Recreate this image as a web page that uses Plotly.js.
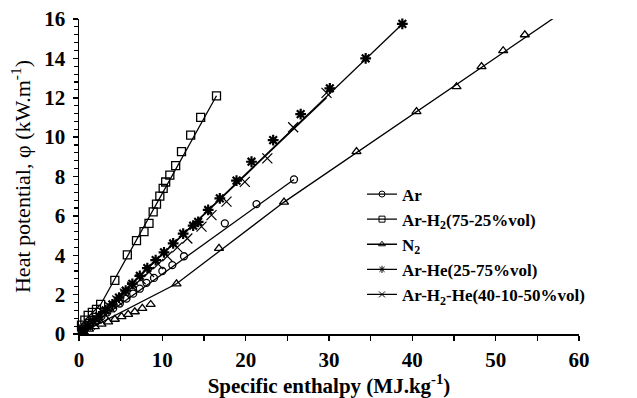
<!DOCTYPE html>
<html>
<head>
<meta charset="utf-8">
<script src="https://cdn.plot.ly/plotly-3.0.1.min.js"></script>
<style>html,body{margin:0;padding:0;background:#fff;}#chart{width:637px;height:398px;}</style>
</head>
<body>
<div id="chart"></div>
<script>
// ---- data ----
var seriesNames = ['Ar', 'Ar-H<sub>2</sub>(75-25%vol)', 'N<sub>2</sub>', 'Ar-He(25-75%vol)', 'Ar-H<sub>2</sub>-He(40-10-50%vol)'];

var arX = [0.3,0.8,1.4,2.0,2.7,3.4,4.1,4.9,5.7,6.5,7.3,8.1,9.0,10.0,11.2,12.6,17.5,21.3,25.8];
var arY = [0.15,0.3,0.5,0.7,0.9,1.1,1.3,1.55,1.8,2.05,2.3,2.6,2.85,3.2,3.5,3.95,5.62,6.6,7.85];

var arH2X = [0.3,0.7,1.1,1.6,2.1,2.6,4.3,5.8,6.9,7.8,8.4,8.9,9.3,9.7,10.1,10.4,10.9,11.6,12.3,13.4,14.6,16.5];
var arH2Y = [0.45,0.7,0.95,1.1,1.25,1.5,2.72,4.02,4.74,5.2,5.62,6.2,6.6,7.0,7.4,7.72,8.07,8.55,9.26,10.1,11.0,12.1];

var n2X = [0.5,1.2,1.9,2.7,3.5,4.3,5.1,5.9,6.7,7.6,8.6,11.7,16.8,24.6,33.3,40.5,45.3,48.3,50.9,53.5];
var n2Y = [0.12,0.25,0.37,0.5,0.62,0.75,0.88,1.0,1.13,1.3,1.5,2.55,4.35,6.7,9.26,11.3,12.56,13.58,14.39,15.2];

var arHeX = [0.4,1.0,1.7,2.4,3.2,4.0,4.8,5.6,6.4,7.3,8.2,9.2,10.2,11.3,12.5,13.7,14.3,15.5,16.9,18.9,20.7,23.3,26.6,30.1,34.4,38.8];
var arHeY = [0.2,0.4,0.65,0.9,1.2,1.5,1.85,2.2,2.55,2.95,3.35,3.75,4.15,4.6,5.1,5.5,5.7,6.3,6.89,7.79,8.75,9.85,11.17,12.48,14.0,15.75];

var arH2HeX = [0.6,1.3,2.1,2.9,3.7,4.6,5.5,6.4,7.4,8.4,9.5,10.6,11.8,13.0,14.7,15.9,17.7,19.9,22.6,25.7,29.7];
var arH2HeY = [0.22,0.48,0.78,1.07,1.37,1.7,2.05,2.4,2.78,3.15,3.55,3.95,4.4,4.85,5.45,6.04,6.72,7.73,8.92,10.5,12.25];

// fitted lines drawn in the reference (end points)
var arFitX = [0, 25.8];          var arFitY = [0, 7.85];
var arH2FitX = [0, 0.7, 2.6, 16.5]; var arH2FitY = [0.3, 0.7, 1.5, 12.1];
var n2FitX = [0, 11.7, 24.6, 57.5]; var n2FitY = [0, 2.55, 6.7, 16.2];
var arHeFitX = [0, 38.8];        var arHeFitY = [0, 15.75];
var arH2HeFitX = [0, 29.7];      var arH2HeFitY = [0, 12.0];

var symbols = ['circle-open','square-open','triangle-up-open','asterisk-open','x-thin-open'];
var sizes = [7, 8, 8, 9, 10];
var widths = [1.3, 1.3, 1.3, 2.2, 1.2];

var markX = [arX, arH2X, n2X, arHeX, arH2HeX];
var markY = [arY, arH2Y, n2Y, arHeY, arH2HeY];
var fitX = [arFitX, arH2FitX, n2FitX, arHeFitX, arH2HeFitX];
var fitY = [arFitY, arH2FitY, n2FitY, arHeFitY, arH2HeFitY];

var traces = [];
for (var i = 0; i < 5; i++) {
  traces.push({x: fitX[i], y: fitY[i], type: 'scatter', mode: 'lines',
    line: {color: '#000', width: 1.3}, showlegend: false, hoverinfo: 'skip'});
}
for (var i = 0; i < 5; i++) {
  traces.push({x: markX[i], y: markY[i], type: 'scatter', mode: 'markers', cliponaxis: false,
    marker: {symbol: symbols[i], size: sizes[i], color: '#000', line: {color: '#000', width: widths[i]}},
    showlegend: false});
}
for (var i = 0; i < 5; i++) {
  traces.push({x: [null], y: [null], type: 'scatter', mode: 'lines+markers', name: seriesNames[i],
    line: {color: '#000', width: 1.3},
    marker: {symbol: symbols[i], size: 6, color: '#000', line: {color: '#000', width: 1}}});
}

var serif = 'Liberation Serif, Times New Roman, serif';
var layout = {
  width: 637, height: 398,
  margin: {l: 79, r: 58, t: 19, b: 64, autoexpand: false},
  paper_bgcolor: '#fff', plot_bgcolor: '#fff',
  font: {family: serif, color: '#000'},
  xaxis: {
    range: [0, 60], dtick: 10, tick0: 0, showgrid: false, zeroline: false,
    showline: true, linecolor: '#000', linewidth: 1.5,
    ticks: 'outside', ticklen: 5, tickwidth: 1.5, tickcolor: '#000',
    minor: {dtick: 5, ticks: 'outside', ticklen: 5, tickwidth: 1.5, tickcolor: '#000', showgrid: false},
    tickfont: {family: serif, size: 21, weight: 'bold', color: '#000'},
    ticklabelstandoff: 1,
    title: {text: 'Specific enthalpy (MJ.kg<sup>-1</sup>)', font: {family: serif, size: 21, weight: 'bold', color: '#000'}, standoff: 4},
    automargin: false
  },
  yaxis: {
    range: [0, 16], dtick: 2, tick0: 0, showgrid: false, zeroline: false,
    showline: true, linecolor: '#000', linewidth: 1.5,
    ticks: 'outside', ticklen: 5, tickwidth: 1.5, tickcolor: '#000',
    minor: {dtick: 0.4, ticks: 'outside', ticklen: 4, tickwidth: 1.2, tickcolor: '#000', showgrid: false},
    tickfont: {family: serif, size: 21, weight: 'bold', color: '#000'},
    ticklabelstandoff: 3,
    title: {text: 'Heat potential, φ (kW.m<sup>-1</sup>)', font: {family: serif, size: 22, color: '#000'}, standoff: 7},
    automargin: false
  },
  legend: {
    x: 0.566, xanchor: 'left', y: 0.5, yanchor: 'top',
    bgcolor: 'rgba(0,0,0,0)', borderwidth: 0,
    font: {family: serif, size: 17, weight: 'bold', color: '#000'},
    tracegroupgap: 0, itemwidth: 30
  },
  showlegend: true
};

Plotly.newPlot('chart', traces, layout, {displayModeBar: false, staticPlot: true});
</script>
</body>
</html>
